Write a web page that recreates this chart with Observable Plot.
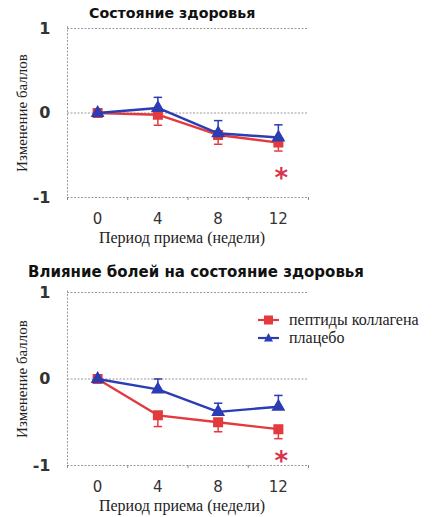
<!DOCTYPE html>
<html><head><meta charset="utf-8">
<script src="https://cdn.jsdelivr.net/npm/d3@7"></script>
<script src="https://cdn.jsdelivr.net/npm/@observablehq/plot@0.6"></script>
<style>
html,body{margin:0;padding:0;background:#fff;}
#root{position:relative;width:433px;height:517px;overflow:hidden;}
.title{position:absolute;font-family:"DejaVu Sans",sans-serif;font-weight:bold;font-size:15px;color:#111;white-space:nowrap;}
.panel{position:absolute;left:0;}
.legend{position:absolute;font-family:"Liberation Serif",serif;font-size:16px;color:#222;}
.legend div{display:flex;align-items:center;height:18px;}
.legend svg{margin-right:5px;}
</style></head>
<body><div id="root"></div>
<script>
const weeks = [0, 4, 8, 12];
const seriesNames = ["пептиды коллагена", "плацебо"];
const seriesColors = ["#e23a3d", "#2b3db3"];
const seriesSymbols = ["square", "triangle"];

// Panel 1: Состояние здоровья
const p1Collagen = [0, -0.02, -0.26, -0.35];
const p1CollagenErr = [0, -0.145, -0.37, -0.45];
const p1Placebo = [0, 0.06, -0.24, -0.29];
const p1PlaceboErr = [0, 0.185, -0.09, -0.14];
const p1Star = [{week: 12.2, value: -0.71}];

// Panel 2: Влияние болей на состояние здоровья
const p2Collagen = [0, -0.42, -0.50, -0.58];
const p2CollagenErr = [0, -0.55, -0.61, -0.69];
const p2Placebo = [0, -0.12, -0.38, -0.32];
const p2PlaceboErr = [0, 0.0, -0.28, -0.19];
const p2Star = [{week: 12.2, value: -0.89}];

const yTicks = [-1, 0, 1];
const xTicks = [0, 4, 8, 12];
const minorTicks = [-2, 2, 6, 10, 14];
const titles = ["Состояние здоровья", "Влияние болей на состояние здоровья"];
const xLabel = "Период приема (недели)";
const yLabel = "Изменение баллов";

function rows(vals, errs, s) {
  return weeks.map((w, i) => ({week: w, value: vals[i], err: errs[i], series: seriesNames[s]}));
}

function panel(data, star, top, height, mt, mb) {
  const series = [rows(data[0], data[1], 0), rows(data[2], data[3], 1)];
  const marks = [
    Plot.ruleY(yTicks, {stroke: "#9a9a9a", strokeDasharray: "2,1.5", strokeWidth: 1}),
    Plot.ruleX([-2], {y1: -1.03, y2: 1.02, stroke: "#9a9a9a", strokeDasharray: "2,1.5"}),
    Plot.ruleX(minorTicks, {y1: -1, y2: -1.035, stroke: "#888"}),
    Plot.axisY({ticks: yTicks, tickFormat: d => String(d), tickSize: 0, tickPadding: 17, fontSize: 16, fontWeight: "bold", fill: "#333", label: null, fontFamily: "DejaVu Sans, sans-serif"}),
    Plot.axisX({ticks: xTicks, tickFormat: d => String(d), tickSize: 0, tickPadding: 16, fontSize: 15, fill: "#333", label: null, fontFamily: "DejaVu Sans, sans-serif"}),
    Plot.text([yLabel], {frameAnchor: "left", dx: -45, rotate: -90, textAnchor: "middle", fontSize: 15, fontFamily: "Liberation Serif, serif", fill: "#222"}),
    Plot.text([xLabel], {frameAnchor: "bottom", dx: -6, dy: 45, fontSize: 16, fontFamily: "Liberation Serif, serif", fill: "#222"}),
  ];
  series.forEach((rs, s) => {
    const er = rs.filter(d => d.week !== 0);
    marks.push(
      Plot.ruleX(er, {x: "week", y1: "value", y2: "err", stroke: seriesColors[s], strokeWidth: 1.5}),
      Plot.link(er, {x1: d => d.week - 0.28, x2: d => d.week + 0.28, y1: "err", y2: "err", stroke: seriesColors[s], strokeWidth: 1.5}),
      Plot.line(rs, {x: "week", y: "value", stroke: seriesColors[s], strokeWidth: 2.4}),
      Plot.dot(rs, {x: "week", y: "value", symbol: () => seriesSymbols[s], fill: seriesColors[s], stroke: seriesColors[s], r: s === 0 ? 4.8 : 4.2})
    );
  });
  marks.push(Plot.text(star, {x: "week", y: "value", text: () => "*", fill: "#d8334f", fontSize: 26, fontWeight: "bold", dy: 6, fontFamily: "DejaVu Sans, sans-serif"}));
  const svg = Plot.plot({
    width: 433, height, marginLeft: 67, marginRight: 125, marginTop: mt, marginBottom: mb,
    x: {domain: [-2, 14], type: "linear"}, y: {domain: [-1, 1], type: "linear"},
    symbol: {type: "identity"},
    style: {background: "transparent", overflow: "visible"},
    marks
  });
  svg.classList.add("panel");
  svg.style.top = top + "px";
  return svg;
}

const root = document.getElementById("root");
root.appendChild(panel([p1Collagen, p1CollagenErr, p1Placebo, p1PlaceboErr], p1Star, 0, 255, 28, 58));
root.appendChild(panel([p2Collagen, p2CollagenErr, p2Placebo, p2PlaceboErr], p2Star, 255, 262, 37, 52));

const t1 = document.createElement("div");
t1.className = "title"; t1.textContent = titles[0];
t1.style.left = "89px"; t1.style.top = "5px"; t1.style.fontSize = "14.2px";
root.appendChild(t1);
const t2 = document.createElement("div");
t2.className = "title"; t2.textContent = titles[1];
t2.style.left = "28px"; t2.style.top = "263px";
root.appendChild(t2);

const lg = document.createElement("div");
lg.className = "legend"; lg.style.left = "258px"; lg.style.top = "311px";
seriesNames.forEach((n, i) => {
  const row = document.createElement("div");
  const sym = i === 0 ? `<rect x="6" y="2.5" width="9" height="9" fill="${seriesColors[i]}"/>` :
    `<path d="M10.5,2 L15,10.5 L6,10.5 Z" fill="${seriesColors[i]}"/>`;
  row.innerHTML = `<svg width="26" height="14"><line x1="0" x2="21" y1="7" y2="7" stroke="${seriesColors[i]}" stroke-width="2.2"/>${sym}</svg><span>${n}</span>`;
  lg.appendChild(row);
});
root.appendChild(lg);
</script></body></html>
